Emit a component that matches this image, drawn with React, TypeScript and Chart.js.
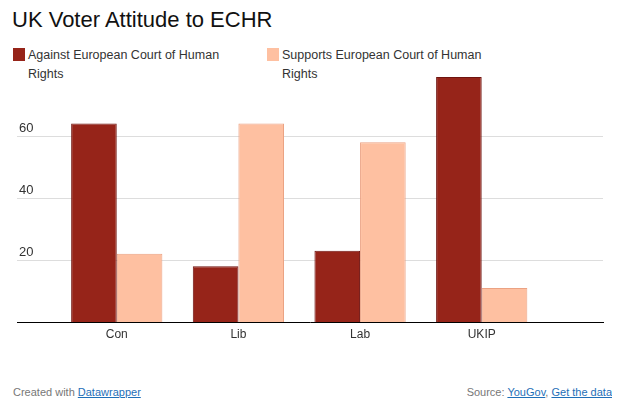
import React, { useEffect, useRef } from "react";
import { Chart, registerables } from "chart.js";

Chart.register(...registerables);

const parties = ["Con", "Lib", "Lab", "UKIP"];
const againstValues = [64, 18, 23, 79];
const supportsValues = [22, 64, 58, 11];
const yTickValues = [20, 40, 60];
const seriesLabels = [
  "Against European Court of Human Rights",
  "Supports European Court of Human Rights",
];

const FONT = "'Liberation Sans', Arial, Helvetica, sans-serif";
const DARK = "#962419";
const DARK_EDGE = "#6f1410";
const LIGHT = "#fec0a1";
const LIGHT_EDGE = "#eba283";
const LINK = "#1f6fb8";

export default function App() {
  const canvasRef = useRef<HTMLCanvasElement | null>(null);

  useEffect(() => {
    if (!canvasRef.current) return;
    const toPoints = (vals: number[]) => vals.map((v, i) => ({ x: i + 1, y: v }));
    const chart = new Chart(canvasRef.current, {
      type: "bar",
      data: {
        datasets: [
          {
            label: seriesLabels[0],
            data: toPoints(againstValues),
            backgroundColor: DARK,
            borderColor: DARK_EDGE,
            borderWidth: 1,
            categoryPercentage: 0.75,
            barPercentage: 1.0,
          },
          {
            label: seriesLabels[1],
            data: toPoints(supportsValues),
            backgroundColor: LIGHT,
            borderColor: LIGHT_EDGE,
            borderWidth: 1,
            categoryPercentage: 0.75,
            barPercentage: 1.0,
          },
        ],
      },
      options: {
        animation: false,
        responsive: false,
        maintainAspectRatio: false,
        layout: { padding: { left: 5, right: 9, top: 4, bottom: 0 } },
        plugins: {
          legend: { display: false },
          tooltip: { enabled: false },
          title: { display: false },
        },
        scales: {
          x: {
            type: "linear",
            offset: false,
            min: 0.18,
            max: 4.997,
            grid: { display: false, drawTicks: false, offset: false },
            border: { display: true, color: "#000", width: 1 },
            afterBuildTicks: (axis: any) => {
              axis.ticks = parties.map((_, i) => ({ value: i + 1 }));
            },
            afterFit: (axis: any) => {
              axis.height = 28;
              axis.paddingLeft = 0;
              axis.paddingRight = 0;
            },
            ticks: {
              autoSkip: false,
              maxRotation: 0,
              padding: 5,
              color: "#333",
              font: { family: FONT, size: 12 },
              callback: (v: any) => parties[Number(v) - 1] ?? "",
            },
          },
          y: {
            min: 0,
            max: 80,
            afterBuildTicks: (axis: any) => {
              axis.ticks = yTickValues.map((v) => ({ value: v }));
            },
            afterFit: (axis: any) => {
              axis.paddingTop = 0;
              axis.paddingBottom = 0;
            },
            grid: { color: "#dddddd", drawTicks: false, lineWidth: 1 },
            border: { display: false },
            ticks: {
              mirror: true,
              padding: 2,
              labelOffset: -8,
              color: "#333",
              font: { family: FONT, size: 13 },
            },
          },
        },
      },
    });
    return () => chart.destroy();
  }, []);

  const legendItem = (left: number, color: string, text: string) => (
    <div
      style={{
        position: "absolute",
        left,
        top: 34,
        width: 240,
        display: "flex",
        alignItems: "flex-start",
      }}
    >
      <div
        style={{
          width: 12,
          height: 13,
          background: color,
          marginTop: 6,
          flex: "none",
        }}
      />
      <div
        style={{
          marginLeft: 3,
          width: 210,
          fontSize: 12.5,
          lineHeight: "19px",
          color: "#333",
          paddingTop: 4,
        }}
      >
        {text}
      </div>
    </div>
  );

  const link = (text: string) => (
    <span
      style={{
        color: LINK,
        textDecoration: "underline",
        textDecorationThickness: "1px",
        textUnderlineOffset: "1px",
      }}
    >
      {text}
    </span>
  );

  const footerStyle: React.CSSProperties = {
    position: "absolute",
    top: 378,
    fontSize: 11,
    lineHeight: "13px",
    color: "#777",
    whiteSpace: "nowrap",
  };

  return (
    <div
      style={{
        position: "relative",
        width: 604,
        height: 390,
        fontFamily: FONT,
      }}
    >
      <div
        style={{
          position: "absolute",
          left: 4,
          top: -1,
          fontSize: 22,
          color: "#111",
          whiteSpace: "nowrap",
        }}
      >
        UK Voter Attitude to ECHR
      </div>
      {legendItem(5, DARK, seriesLabels[0])}
      {legendItem(259, LIGHT, seriesLabels[1])}
      <canvas
        ref={canvasRef}
        width={604}
        height={280}
        style={{ position: "absolute", left: 0, top: 62, width: 604, height: 280 }}
      />
      <div style={{ ...footerStyle, left: 5 }}>
        Created with {link("Datawrapper")}
      </div>
      <div style={{ ...footerStyle, right: 0 }}>
        Source: {link("YouGov")}, {link("Get the data")}
      </div>
    </div>
  );
}
